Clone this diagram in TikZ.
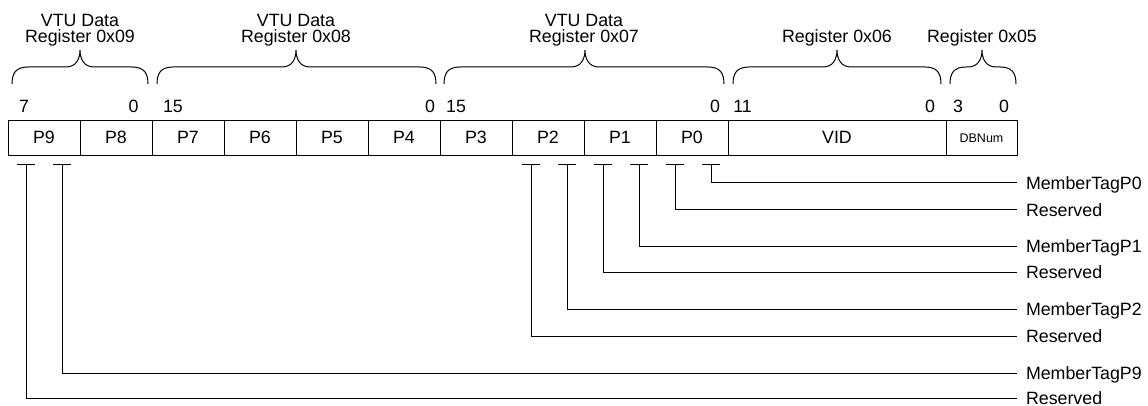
\documentclass[tikz,border=0pt]{standalone}
\usepackage{fontspec}
\setmainfont{Liberation Sans}
\newcommand{\regbrace}[3]{%
  \draw[bracestyle] (#1,84) .. controls (#1,73) and (#1+4,67) .. (#1+16,67)
    -- (#2-14,67) .. controls (#2-4,67) and (#2,59) .. (#2,50)
    .. controls (#2,59) and (#2+4,67) .. (#2+14,67)
    -- (#3-16,67) .. controls (#3-4,67) and (#3,73) .. (#3,84);}
\begin{document}
\begin{tikzpicture}[x=1pt,y=-1pt,
  every node/.style={inner sep=0pt,outer sep=0pt},
  txt/.style={font=\fontsize{17.8}{17}\selectfont},
  lbl/.style={txt,anchor=base},
  cell/.style={txt,draw,line width=1pt,minimum height=35pt,text height=10pt,text depth=0pt},
  smallcell/.style={cell,font=\fontsize{12.5}{12}\selectfont,text height=8pt},
  field/.style={txt,anchor=west,text height=12.4pt,text depth=0pt},
  bracestyle/.style={line width=1pt},
  conn/.style={line width=1pt}]
\useasboundingbox (0,0) rectangle (1148,406);
% register labels
\node[lbl] (r09a) at (80,26.7) {VTU Data};
\node[lbl] (r09b) at (80,42.5) {Register 0x09};
\node[lbl] (r08a) at (296,26.7) {VTU Data};
\node[lbl] (r08b) at (296,42.5) {Register 0x08};
\node[lbl] (r07a) at (584,26.7) {VTU Data};
\node[lbl] (r07b) at (584,42.5) {Register 0x07};
\node[lbl] (r06) at (837,42.5) {Register 0x06};
\node[lbl] (r05) at (982,42.5) {Register 0x05};
% braces
\regbrace{12}{80}{148}
\regbrace{157}{296}{436}
\regbrace{444}{585}{724}
\regbrace{733}{837}{941}
\regbrace{950}{982}{1016}
% bit numbers
\node[lbl] (b9h) at (24,112.3) {7};
\node[lbl] (b9l) at (133.5,112.3) {0};
\node[lbl] (b8h) at (173,112.3) {15};
\node[lbl] (b8l) at (430,112.3) {0};
\node[lbl] (b7h) at (456,112.3) {15};
\node[lbl] (b7l) at (715,112.3) {0};
\node[lbl] (b6h) at (742.5,112.3) {11};
\node[lbl] (b6l) at (930,112.3) {0};
\node[lbl] (b5h) at (958,112.3) {3};
\node[lbl] (b5l) at (1004,112.3) {0};
% cells
\node[cell,minimum width=72pt] (p9) at (44,138.5) {P9};
\node[cell,minimum width=72pt] (p8) at (116,138.5) {P8};
\node[cell,minimum width=72pt] (p7) at (188,138.5) {P7};
\node[cell,minimum width=72pt] (p6) at (260,138.5) {P6};
\node[cell,minimum width=72pt] (p5) at (332,138.5) {P5};
\node[cell,minimum width=72pt] (p4) at (404,138.5) {P4};
\node[cell,minimum width=72pt] (p3) at (476,138.5) {P3};
\node[cell,minimum width=72pt] (p2) at (548,138.5) {P2};
\node[cell,minimum width=72pt] (p1) at (620,138.5) {P1};
\node[cell,minimum width=72pt] (p0) at (692,138.5) {P0};
\node[cell,minimum width=218pt] (vid) at (837,138.5) {VID};
\node[smallcell,minimum width=71pt] (db) at (981.5,138.5) {DBNum};
% field labels
\node[field] (f1) at (1026,183) {MemberTagP0};
\node[field] (f2) at (1026,210) {Reserved};
\node[field] (f3) at (1026,246) {MemberTagP1};
\node[field] (f4) at (1026,272) {Reserved};
\node[field] (f5) at (1026,309) {MemberTagP2};
\node[field] (f6) at (1026,336) {Reserved};
\node[field] (f7) at (1026,373) {MemberTagP9};
\node[field] (f8) at (1026,398) {Reserved};
% tap points
\coordinate (t1) at (711,165);
\coordinate (t2) at (675,165);
\coordinate (t3) at (639,165);
\coordinate (t4) at (603,165);
\coordinate (t5) at (567,165);
\coordinate (t6) at (531,165);
\coordinate (t7) at (62,165);
\coordinate (t8) at (26,165);
\foreach \i in {1,...,8}{
  \draw[conn] ([xshift=-9pt]t\i) -- ([xshift=9pt]t\i);
  \draw[conn] (t\i) |- ([xshift=-9pt]f\i.west);
}
\end{tikzpicture}
\end{document}
